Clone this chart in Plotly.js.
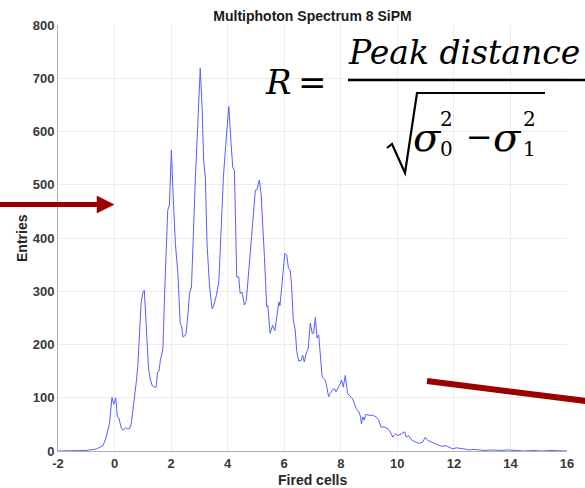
<!DOCTYPE html>
<html>
<head>
<meta charset="utf-8">
<script src="https://cdn.plot.ly/plotly-3.0.1.min.js"></script>
<style>html,body{margin:0;padding:0;background:#fff;}#chart{width:585px;height:488px;}</style>
</head>
<body>
<div id="chart"></div>
<script>
// Data
const firedCells = [-2, -1.5, -1.1, -1.0, -0.9, -0.8, -0.7, -0.6, -0.5, -0.41,
  -0.3, -0.24, -0.18, -0.09, -0.03, 0.04, 0.1, 0.15, 0.2, 0.24,
  0.3, 0.35, 0.39, 0.45, 0.53, 0.59, 0.65, 0.71, 0.77, 0.82,
  0.88, 0.94, 1.0, 1.05, 1.09, 1.14, 1.2, 1.26, 1.33, 1.4,
  1.47, 1.52, 1.57, 1.62, 1.71, 1.77, 1.83, 1.88, 1.94, 2.01,
  2.08, 2.15, 2.24, 2.32, 2.37, 2.42, 2.48, 2.53, 2.6, 2.65,
  2.72, 2.79, 2.86, 2.94, 3.03, 3.1, 3.15, 3.21, 3.27, 3.36,
  3.45, 3.5, 3.6, 3.69, 3.77, 3.85, 3.93, 4.04, 4.12, 4.18,
  4.24, 4.27, 4.32, 4.39, 4.44, 4.51, 4.59, 4.66, 4.72, 4.77,
  4.83, 4.91, 4.98, 5.04, 5.12, 5.18, 5.24, 5.3, 5.38, 5.42,
  5.5, 5.59, 5.67, 5.74, 5.81, 5.85, 5.95, 6.02, 6.09, 6.15,
  6.21, 6.26, 6.32, 6.39, 6.44, 6.51, 6.6, 6.65, 6.71, 6.77,
  6.85, 6.92, 6.99, 7.04, 7.1, 7.16, 7.22, 7.3, 7.34, 7.46,
  7.57, 7.63, 7.69, 7.78, 7.83, 7.95, 8.03, 8.09, 8.16, 8.24,
  8.36, 8.42, 8.54, 8.65, 8.7, 8.73, 8.78, 8.83, 8.89, 9.01,
  9.13, 9.25, 9.34, 9.42, 9.54, 9.66, 9.75, 9.84, 9.94, 10.02,
  10.14, 10.26, 10.31, 10.4, 10.52, 10.66, 10.78, 10.9, 10.99, 11.07,
  11.19, 11.3, 11.42, 11.55, 11.72, 11.85, 11.95, 12.1, 12.3, 12.45,
  12.54, 12.7, 12.9, 13.1, 13.3, 13.5, 13.7, 13.9, 14.1, 14.3,
  14.5, 14.8, 15.1, 15.4, 15.7, 16];
const entries = [0, 0, 0, 1, 2, 2, 3, 5, 8, 10,
  25, 42, 52, 101, 88, 100, 64, 62, 50, 43,
  39, 42, 44, 42, 42, 51, 75, 100, 130, 158,
  220, 277, 298, 302, 265, 214, 155, 135, 123, 120,
  120, 148, 150, 170, 192, 296, 400, 452, 462, 565,
  471, 390, 334, 240, 234, 214, 216, 221, 260, 296,
  308, 421, 515, 609, 719, 640, 546, 515, 390, 308,
  267, 272, 292, 320, 421, 515, 574, 647, 578, 533,
  526, 452, 327, 327, 296, 298, 274, 283, 320, 365,
  404, 440, 490, 491, 509, 484, 428, 365, 271, 273,
  221, 236, 226, 258, 280, 273, 334, 371, 368, 343,
  340, 311, 246, 227, 189, 169, 170, 180, 167, 183,
  193, 240, 221, 221, 251, 212, 218, 152, 139, 133,
  102, 108, 114, 117, 111, 123, 133, 120, 142, 108,
  102, 98, 80, 73, 64, 51, 64, 58, 69, 67,
  67, 64, 58, 45, 45, 42, 36, 26, 32, 29,
  32, 36, 26, 29, 20, 17, 14, 17, 26, 20,
  17, 14, 11, 9, 10, 6, 4, 6, 5, 3,
  2, 3, 2, 1, 2, 1, 1, 2, 1, 1,
  0, 1, 0, 1, 0, 0];
const xTicks = [-2, 0, 2, 4, 6, 8, 10, 12, 14, 16];
const yTicks = [0, 100, 200, 300, 400, 500, 600, 700, 800];

// plot-area geometry helpers (pixels -> paper)
const L = 58, R = 567, T = 25, B = 451;
const W = 585, H = 488;
const px = v => (v - L) / (R - L);
const py = v => (B - v) / (B - T);

const red = '#9a0000';
const serif = 'DejaVu Serif';
const sans = 'Liberation Sans, Arial, sans-serif';
const tickFont = {family: sans, size: 13, color: '#383838', weight: 'bold'};

function ann(text, x, y, size, italic) {
  const f = {family: serif, size: size, color: '#000'};
  if (italic) f.style = 'italic';
  return {
    text: text, xref: 'paper', yref: 'paper', x: px(x), y: py(y),
    xanchor: 'center', yanchor: 'middle', showarrow: false, borderpad: 0,
    font: f
  };
}

const annotations = [
  ann('R', 278, 82, 34, true),
  ann('=', 312, 82, 34, false),
  ann('Peak distance', 464, 53, 33, true),
  ann('σ', 427, 137, 40, true),
  ann('2', 446, 119, 20, false),
  ann('0', 446, 149, 20, false),
  ann('−', 479, 137, 32, false),
  ann('σ', 507, 137, 40, true),
  ann('2', 529, 119, 20, false),
  ann('1', 529, 149, 20, false),
  {text: 'Entries', xref: 'paper', yref: 'paper', x: px(22), y: py(238), textangle: -90,
   xanchor: 'center', yanchor: 'middle', showarrow: false,
   font: {family: sans, size: 14, color: '#262626', weight: 'bold'}},
  {text: 'Fired cells', xref: 'paper', yref: 'paper', x: px(312), y: py(480),
   xanchor: 'center', yanchor: 'middle', showarrow: false,
   font: {family: sans, size: 14, color: '#262626', weight: 'bold'}}
];

const shapes = [
  // fraction bar
  {type: 'line', xref: 'paper', yref: 'paper', x0: px(348), x1: px(600), y0: py(80), y1: py(80),
   line: {color: '#000', width: 2.5}},
  // radical sign
  {type: 'path', xref: 'paper', yref: 'paper',
   path: 'M ' + px(387) + ' ' + py(148) + ' L ' + px(392) + ' ' + py(144) +
         ' L ' + px(405) + ' ' + py(173) + ' L ' + px(417) + ' ' + py(93) +
         ' L ' + px(545) + ' ' + py(93),
   line: {color: '#000', width: 2.2}},
  // left arrow shaft
  {type: 'line', xref: 'paper', yref: 'paper', x0: px(-2), x1: px(99), y0: py(204.5), y1: py(204.5),
   line: {color: red, width: 5}},
  // left arrow head
  {type: 'path', xref: 'paper', yref: 'paper',
   path: 'M ' + px(97) + ' ' + py(196) + ' L ' + px(114) + ' ' + py(204.5) + ' L ' + px(97) + ' ' + py(213) + ' Z',
   fillcolor: red, line: {color: red, width: 0.5}},
  // bottom-right red bar
  {type: 'line', xref: 'paper', yref: 'paper', x0: px(427), x1: px(590), y0: py(381), y1: py(401.5),
   line: {color: red, width: 6}}
];

const trace = {
  x: firedCells, y: entries, type: 'scatter', mode: 'lines',
  line: {color: 'rgb(85,95,255)', width: 1}, hoverinfo: 'skip'
};

const layout = {
  width: W, height: H,
  margin: {l: L, r: W - R, t: T, b: H - B, pad: 0},
  paper_bgcolor: '#fff', plot_bgcolor: '#fff',
  showlegend: false,
  title: {text: 'Multiphoton Spectrum 8 SiPM', x: px(312.5), xref: 'paper', xanchor: 'center',
          y: 1 - 16 / H, yref: 'container', yanchor: 'middle',
          font: {family: sans, size: 14, color: '#1a1a1a', weight: 'bold'}},
  xaxis: {range: [-2, 16], tickvals: xTicks, ticktext: xTicks.map(String), showgrid: true,
          gridcolor: '#ececec', gridwidth: 1, zeroline: false, showline: true, linecolor: '#b0b0b0',
          linewidth: 1, ticks: '', tickfont: tickFont, fixedrange: true},
  yaxis: {range: [0, 800], tickvals: yTicks, ticktext: yTicks.map(String), showgrid: true,
          gridcolor: '#ececec', gridwidth: 1, zeroline: false, showline: true, linecolor: '#b0b0b0',
          linewidth: 1, ticks: '', tickfont: tickFont, fixedrange: true},
  annotations: annotations,
  shapes: shapes
};

Plotly.newPlot('chart', [trace], layout, {staticPlot: true, displayModeBar: false});
</script>
</body>
</html>
